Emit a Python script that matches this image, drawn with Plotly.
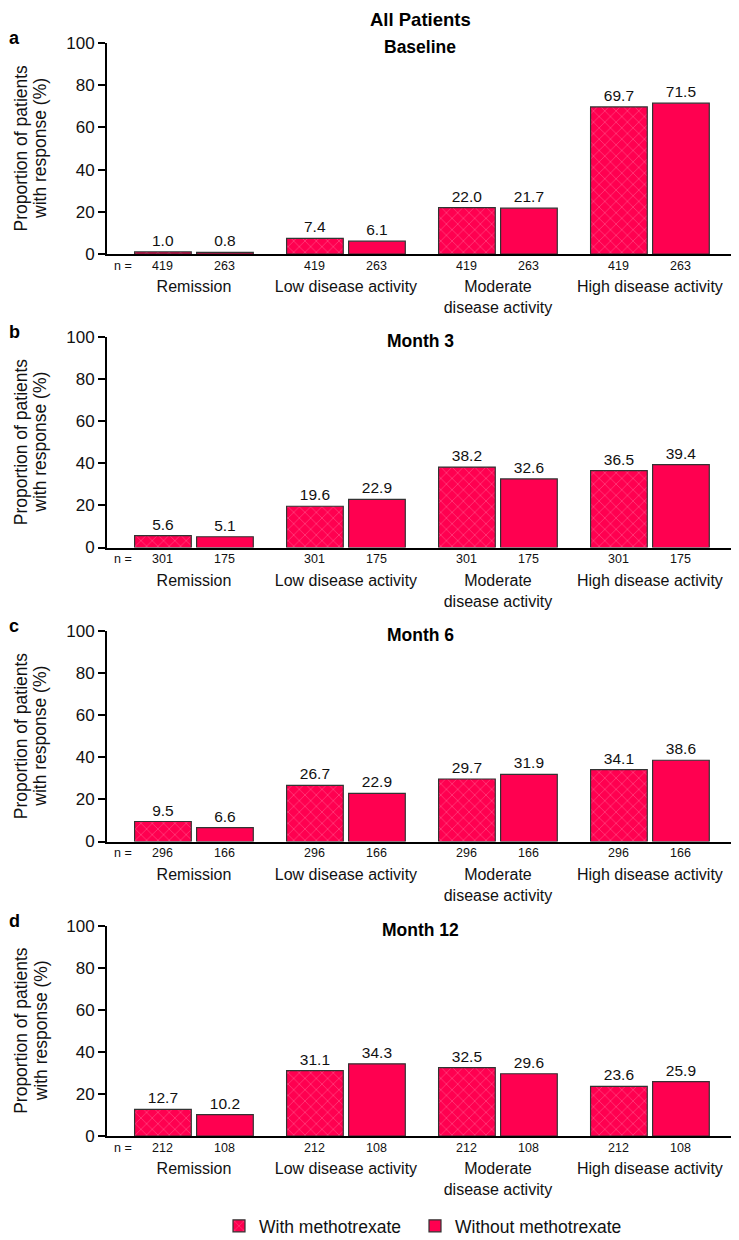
import plotly.graph_objects as go

categories = ["Remission", "Low disease activity", "Moderate<br>disease activity", "High disease activity"]
panels = ["Baseline", "Month 3", "Month 6", "Month 12"]
letters = ["a", "b", "c", "d"]
ytitle_lines = ["Proportion of patients", "with response (%)"]

with_mtx = [
    [1.0, 7.4, 22.0, 69.7],
    [5.6, 19.6, 38.2, 36.5],
    [9.5, 26.7, 29.7, 34.1],
    [12.7, 31.1, 32.5, 23.6],
]
without_mtx = [
    [0.8, 6.1, 21.7, 71.5],
    [5.1, 22.9, 32.6, 39.4],
    [6.6, 22.9, 31.9, 38.6],
    [10.2, 34.3, 29.6, 25.9],
]
n_with = [419, 301, 296, 212]
n_without = [263, 175, 166, 108]

W, H = 739, 1240
RED = "#FF0050"
FONT = "Liberation Sans, Arial, sans-serif"
TXT = "#111111"

# page-pixel offsets (to compensate the page's body margin), in px
OX, OY = 8, 8

def px(x):
    return (x - OX) / W

def py(y):
    return 1 - (y - OY) / H

tops = [43, 337, 631, 925.7]
bottoms = [254, 547.5, 841.5, 1136]

fig = go.Figure()
xpos = list(range(len(categories)))

annotations = []
for k in range(4):
    ax = "" if k == 0 else str(k + 1)
    fig.add_trace(go.Bar(
        x=xpos, y=with_mtx[k], name="With methotrexate",
        xaxis="x" + ax, yaxis="y" + ax, showlegend=(k == 0), legendgroup="w", legend="legend",
        marker=dict(color=RED, line=dict(color="#333333", width=1.2),
                    pattern=dict(shape="x", fgcolor="rgba(255,255,255,0.8)", bgcolor=RED,
                                 size=8, solidity=0.12)),
        texttemplate="%{y:.1f}", textposition="outside", cliponaxis=False,
        textfont=dict(size=15.5, color=TXT, family=FONT),
    ))
    fig.add_trace(go.Bar(
        x=xpos, y=without_mtx[k], name="Without methotrexate",
        xaxis="x" + ax, yaxis="y" + ax, showlegend=(k == 0), legendgroup="wo", legend="legend2",
        marker=dict(color=RED, line=dict(color="#333333", width=1.2)),
        texttemplate="%{y:.1f}", textposition="outside", cliponaxis=False,
        textfont=dict(size=15.5, color=TXT, family=FONT),
    ))
    y0 = py(bottoms[k])
    y1 = py(tops[k])
    fig.update_layout(**{
        "xaxis" + ax: dict(domain=[px(107), px(739)], range=[-0.572, 3.586], anchor="y" + ax,
                           tickvals=xpos, ticktext=categories, showline=True, linecolor="black",
                           linewidth=2, ticks="", showgrid=False, zeroline=False,
                           ticklabelstandoff=17, automargin=False,
                           tickfont=dict(size=16, family=FONT, color=TXT)),
        "yaxis" + ax: dict(domain=[y0, y1], range=[0, 100], anchor="x" + ax,
                           tickvals=[0, 20, 40, 60, 80, 100], showline=True, linecolor="black",
                           linewidth=2, ticks="outside", ticklen=7, tickwidth=2, tickcolor="black",
                           showgrid=False, zeroline=False, automargin=False,
                           tickfont=dict(size=17, family=FONT, color=TXT)),
    })
    # y title (two lines, tight spacing)
    for j, line in enumerate(ytitle_lines):
        annotations.append(dict(text=line, x=px(21 + 19.5 * j), y=(y0 + y1) / 2,
                                xref="paper", yref="paper", xanchor="center", yanchor="middle",
                                textangle=-90, showarrow=False, borderpad=0,
                                font=dict(size=17.5, family=FONT, color=TXT)))
    # n labels
    annotations.append(dict(text="n =", x=-0.465, y=0, xref="x" + ax, yref="y" + ax + " domain",
                            yanchor="top", yshift=-2.5, showarrow=False,
                            font=dict(size=12.5, family=FONT, color=TXT)))
    for i in range(len(categories)):
        annotations.append(dict(text=str(n_with[k]), x=i - 0.204, y=0, xref="x" + ax,
                                yref="y" + ax + " domain", yanchor="top", yshift=-2.5, showarrow=False,
                                font=dict(size=12.5, family=FONT, color=TXT)))
        annotations.append(dict(text=str(n_without[k]), x=i + 0.204, y=0, xref="x" + ax,
                                yref="y" + ax + " domain", yanchor="top", yshift=-2.5, showarrow=False,
                                font=dict(size=12.5, family=FONT, color=TXT)))
    # panel title
    annotations.append(dict(text="<b>" + panels[k] + "</b>", x=px(420), y=py(tops[k] + 4),
                            xref="paper", yref="paper", xanchor="center", yanchor="middle",
                            showarrow=False, font=dict(size=17.5, family=FONT, color="black")))
    # panel letter
    annotations.append(dict(text="<b>" + letters[k] + "</b>", x=px(14), y=py(tops[k] - 5),
                            xref="paper", yref="paper", xanchor="center", yanchor="middle",
                            showarrow=False, borderpad=0, font=dict(size=18, family=FONT, color="black")))

annotations.append(dict(text="<b>All Patients</b>", x=px(420), y=py(20), xref="paper", yref="paper",
                        xanchor="center", yanchor="middle", showarrow=False, borderpad=0,
                        font=dict(size=18.5, family=FONT, color="black")))

legend_common = dict(orientation="h", xanchor="left", y=py(1226), yanchor="middle",
                     font=dict(size=17.5, family=FONT, color=TXT), bgcolor="rgba(0,0,0,0)")

fig.update_layout(
    width=W, height=H, margin=dict(l=0, r=0, t=0, b=0, autoexpand=False),
    paper_bgcolor="white", plot_bgcolor="white",
    barmode="group", bargap=0.184, bargroupgap=0.086,
    annotations=annotations,
    legend=dict(x=px(219), **legend_common),
    legend2=dict(x=px(415), **legend_common),
    font=dict(family=FONT),
)

fig.write_html("out.html")
